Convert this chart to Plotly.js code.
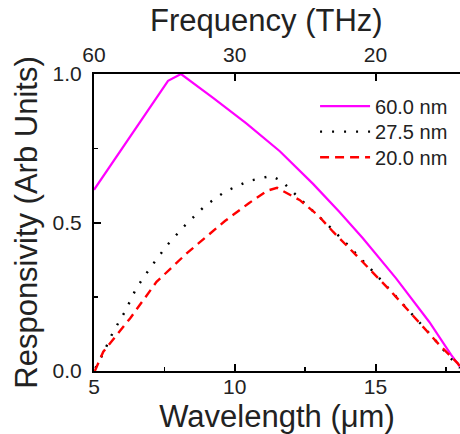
<!DOCTYPE html>
<html>
<head>
<meta charset="utf-8">
<script src="https://cdn.plot.ly/plotly-3.0.1.min.js"></script>
<style>html,body{margin:0;padding:0;background:#fff;}#chart{width:460px;height:434px;}</style>
</head>
<body>
<div id="chart"></div>
<script>
// Wavelength (µm) and responsivity (arb. units)
const lam60 = [5.0, 6.3, 7.63, 8.09, 9.23, 10.41, 11.6, 12.78, 13.72, 14.55, 15.73, 16.91, 17.68, 18.0];
const resp60 = [0.61, 0.79, 0.977, 1.0, 0.92, 0.834, 0.74, 0.63, 0.535, 0.447, 0.312, 0.165, 0.055, 0.015];

const lam275 = [5.05, 5.33, 5.67, 6.1, 6.51, 7.02, 7.6, 8.23, 8.94, 9.67, 10.5, 11.3, 11.66, 12.07, 12.48, 13.25, 14.02, 15.14, 15.85, 16.91, 17.62, 18.0];
const resp275 = [0.01, 0.06, 0.13, 0.2, 0.28, 0.35, 0.424, 0.49, 0.556, 0.605, 0.64, 0.657, 0.64, 0.604, 0.565, 0.497, 0.424, 0.312, 0.239, 0.127, 0.048, 0.01];

const lam20 = [5.03, 5.33, 6.28, 7.22, 8.29, 9.65, 10.5, 11.15, 11.5, 12.3, 12.95, 13.49, 14.31, 15.5, 16.2, 17.27, 17.92, 18.0];
const resp20 = [0.0, 0.065, 0.177, 0.30, 0.396, 0.505, 0.565, 0.607, 0.617, 0.576, 0.525, 0.469, 0.39, 0.273, 0.2, 0.0875, 0.026, 0.015];

const seriesNames = ['60.0 nm', '27.5 nm', '20.0 nm'];
const wlTicks = [5, 10, 15];
const wlMinor = [7.5, 12.5, 17.5];
const freqTicks = [60, 30, 20];       // THz, top axis
const respTicks = [0, 0.5, 1.0];
const respTickText = ['0.0', '0.5', '1.0'];
const respMinor = [0.25, 0.75];

const FONT = '"Liberation Sans", Arial, Helvetica, sans-serif';
const TXT = '#222222';

const traces = [
  {x: lam60, y: resp60, name: seriesNames[0], mode: 'lines', type: 'scatter', legend: 'legend',
   line: {color: '#ff00ff', width: 2.2}},
  {x: lam275, y: resp275, name: seriesNames[1], mode: 'lines', type: 'scatter', legend: 'legend2',
   line: {color: '#000000', width: 2.4, dash: '2px,10px'}},
  {x: lam20, y: resp20, name: seriesNames[2], mode: 'lines', type: 'scatter', legend: 'legend3',
   line: {color: '#ff0000', width: 2.4, dash: '9px,6px'}},
  // invisible trace to activate top frequency axis
  {x: [5, 18], y: [0, 0], xaxis: 'x2', mode: 'lines', showlegend: false,
   hoverinfo: 'skip', line: {width: 0, color: 'rgba(0,0,0,0)'}}
];

function leg(y) {
  return {x: 0.604, y: y, xanchor: 'left', yanchor: 'middle',
          font: {size: 20, color: TXT, family: FONT}, bgcolor: 'rgba(0,0,0,0)',
          itemwidth: 50};
}

const layout = {
  width: 460, height: 434,
  margin: {l: 94, r: 0, t: 74, b: 63},
  paper_bgcolor: '#ffffff', plot_bgcolor: '#ffffff',
  font: {family: FONT, color: TXT},
  showlegend: true,
  legend: leg(0.892),
  legend2: leg(0.806),
  legend3: leg(0.7195),
  title: {text: 'Frequency (THz)', font: {size: 31, color: TXT, family: FONT},
          xref: 'container', x: 0.579, xanchor: 'center',
          yref: 'container', y: 0.953, yanchor: 'middle'},
  xaxis: {
    range: [5, 18], tickvals: wlTicks, ticktext: wlTicks.map(String),
    ticks: 'inside', ticklen: 7, tickwidth: 2, tickcolor: '#000',
    showline: true, linewidth: 2, linecolor: '#000',
    showgrid: false, zeroline: false,
    tickfont: {size: 21, color: TXT}, ticklabelstandoff: -4,
    minor: {tickvals: wlMinor, ticks: 'inside', ticklen: 4, tickwidth: 1.5, tickcolor: '#000', showgrid: false},
    title: {text: 'Wavelength (μm)', font: {size: 31, color: TXT}, standoff: 12}
  },
  xaxis2: {
    overlaying: 'x', side: 'top', anchor: 'y',
    range: [5, 18], tickvals: freqTicks.map(f => 300 / f), ticktext: freqTicks.map(String),
    ticks: 'inside', ticklen: 7, tickwidth: 2, tickcolor: '#000',
    showline: true, linewidth: 2, linecolor: '#000',
    showgrid: false, zeroline: false,
    tickfont: {size: 21, color: TXT}, ticklabelstandoff: 2
  },
  yaxis: {
    range: [0, 1], tickvals: respTicks, ticktext: respTickText,
    ticks: 'inside', ticklen: 7, tickwidth: 2, tickcolor: '#000',
    showline: true, linewidth: 2, linecolor: '#000',
    showgrid: false, zeroline: false,
    tickfont: {size: 21, color: TXT}, ticklabelstandoff: 6,
    minor: {tickvals: respMinor, ticks: 'inside', ticklen: 4, tickwidth: 1.5, tickcolor: '#000', showgrid: false},
    title: {text: 'Responsivity (Arb Units)', font: {size: 31, color: TXT}, standoff: 6}
  }
};

Plotly.newPlot('chart', traces, layout, {displayModeBar: false, staticPlot: true});
</script>
</body>
</html>
